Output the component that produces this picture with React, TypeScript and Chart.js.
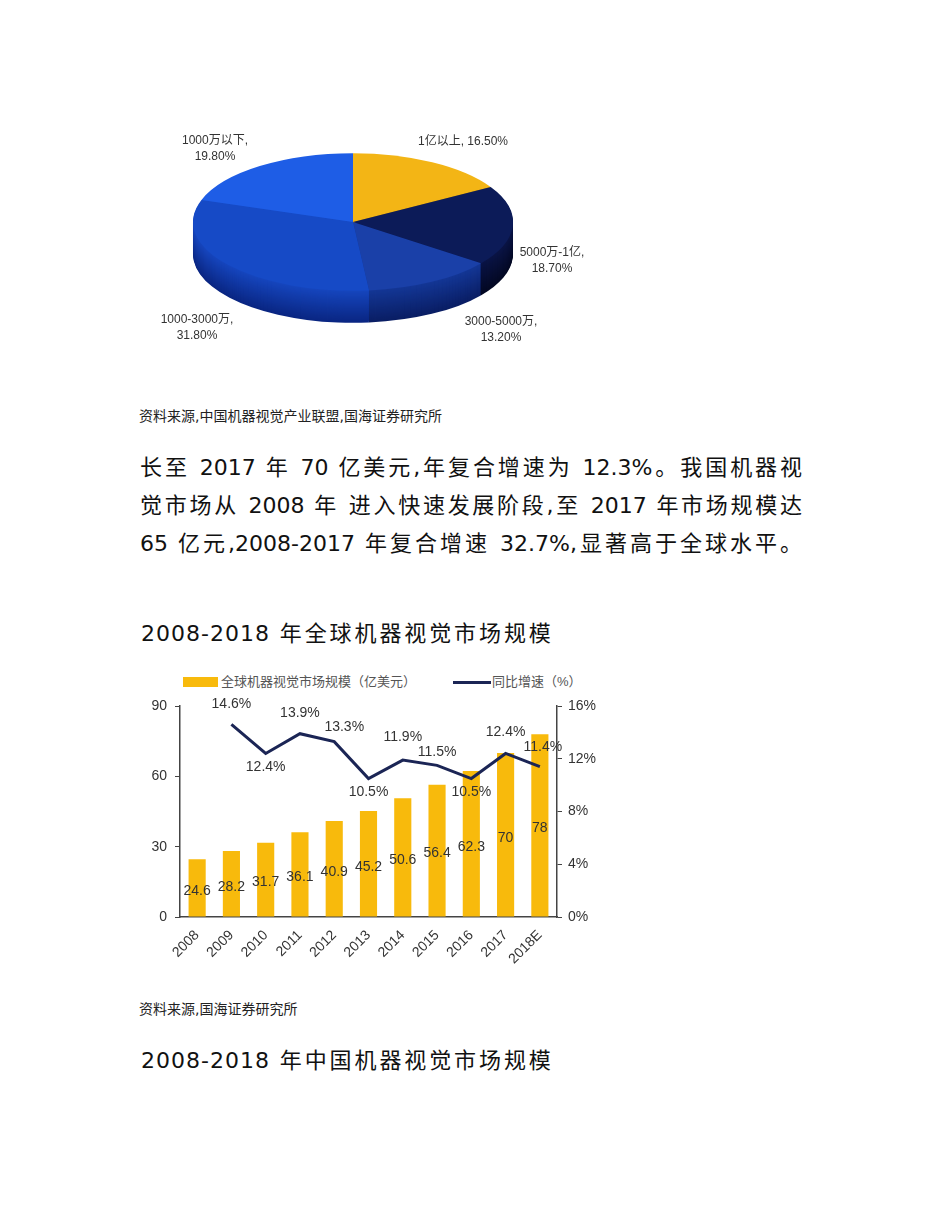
import React, { useEffect, useRef } from "react";
import { Chart, registerables } from "chart.js";

Chart.register(...registerables);

// ---------- Pie data ----------
const pieLabels = ["1亿以上", "5000万-1亿", "3000-5000万", "1000-3000万", "1000万以下"];
const pieValues = [16.5, 18.7, 13.2, 31.8, 19.8];
const pieValueText = ["16.50%", "18.70%", "13.20%", "31.80%", "19.80%"];

// ---------- Bar/line data ----------
const years = ["2008", "2009", "2010", "2011", "2012", "2013", "2014", "2015", "2016", "2017", "2018E"];
const marketSize = [24.6, 28.2, 31.7, 36.1, 40.9, 45.2, 50.6, 56.4, 62.3, 70, 78];
const growthRate = [null, 14.6, 12.4, 13.9, 13.3, 10.5, 11.9, 11.5, 10.5, 12.4, 11.4];
const leftTicks = [0, 30, 60, 90];
const rightTicks = [0, 4, 8, 12, 16];

// ---------- styles ----------
const pieTopColors = ["#F3B515", "#0C1B58", "#1A40A8", "#164AC6", "#1E5DE6"];
const pieSideTop = [
  [190, 140, 10],
  [10, 20, 70],
  [20, 55, 150],
  [22, 70, 190],
  [25, 80, 200],
];
const pieSideBottom = [
  [140, 100, 5],
  [3, 8, 35],
  [10, 30, 100],
  [10, 38, 130],
  [15, 55, 160],
];
const pieLabelPos = [
  { x: 278, y: 22, align: "left", two: false },
  { x: 412, y: 133, align: "center", two: true },
  { x: 361, y: 202, align: "center", two: true },
  { x: 57, y: 200, align: "center", two: true },
  { x: 75, y: 21, align: "center", two: true },
];
const lineLabelDx = [0, 0, 0, 0, 10, 0, 0, 0, 0, 0, 3];
const lineLabelDy = [0, -20, 14, -21, -14, 14, -23, -13, 14, -21, -20];

const CJK = '"Liberation Sans", Arial, "Noto Sans CJK SC", sans-serif';

function mix(a: number[], b: number[], t: number) {
  const c = a.map((v, i) => Math.round(v + (b[i] - v) * t));
  return `rgb(${c[0]},${c[1]},${c[2]})`;
}

function PieChart() {
  const ref = useRef<HTMLCanvasElement>(null);
  useEffect(() => {
    if (!ref.current) return;
    const cx = 213, cy = 102, k = 0.43, depth = 32;
    const pie3d = {
      id: "pie3d",
      beforeDatasetsDraw(chart: any) {
        const ctx = chart.ctx;
        const meta = chart.getDatasetMeta(0);
        for (let d = depth; d >= 1; d--) {
          const t = d / depth;
          ctx.save();
          ctx.translate(cx, cy + d);
          ctx.scale(1, k);
          meta.data.forEach((el: any, i: number) => {
            ctx.beginPath();
            ctx.moveTo(0, 0);
            ctx.arc(0, 0, el.outerRadius, el.startAngle, el.endAngle);
            ctx.closePath();
            ctx.fillStyle = mix(pieSideTop[i], pieSideBottom[i], t);
            ctx.fill();
          });
          ctx.restore();
        }
        const el0: any = meta.data[0];
        ctx.save();
        ctx.translate(cx, cy);
        ctx.scale(1, k);
        ctx.translate(-el0.x, -el0.y);
      },
      afterDatasetsDraw(chart: any) {
        const ctx = chart.ctx;
        ctx.restore();
        ctx.save();
        ctx.fillStyle = "#333";
        ctx.font = "12px " + CJK;
        ctx.textBaseline = "middle";
        pieLabels.forEach((lab, i) => {
          const p = pieLabelPos[i];
          ctx.textAlign = p.align as CanvasTextAlign;
          if (p.two) {
            ctx.fillText(lab + ",", p.x, p.y);
            ctx.fillText(pieValueText[i], p.x, p.y + 16);
          } else {
            ctx.fillText(lab + ", " + pieValueText[i], p.x, p.y);
          }
        });
        ctx.restore();
      },
    };
    const chart = new Chart(ref.current, {
      type: "pie",
      data: {
        labels: pieLabels,
        datasets: [
          {
            data: pieValues,
            backgroundColor: pieTopColors,
            borderWidth: 0,
            radius: 160,
            clip: false,
          } as any,
        ],
      },
      options: {
        responsive: false,
        animation: false,
        events: [],
        layout: { padding: 0 },
        plugins: { legend: { display: false }, tooltip: { enabled: false } },
      },
      plugins: [pie3d],
    });
    return () => chart.destroy();
  }, []);
  return (
    <canvas
      ref={ref}
      width={450}
      height={240}
      style={{ position: "absolute", left: 140, top: 120, width: 450, height: 240 }}
    />
  );
}

function BarLineChart() {
  const ref = useRef<HTMLCanvasElement>(null);
  useEffect(() => {
    if (!ref.current) return;
    const labelPlugin = {
      id: "valueLabels",
      afterDatasetsDraw(chart: any) {
        const ctx = chart.ctx;
        ctx.save();
        ctx.fillStyle = "#333";
        ctx.font = '14px "Liberation Sans", Arial, sans-serif';
        ctx.textAlign = "center";
        ctx.textBaseline = "middle";
        const barMeta = chart.getDatasetMeta(1);
        barMeta.data.forEach((el: any, i: number) => {
          ctx.fillText(String(marketSize[i]), el.x, (el.y + el.base) / 2 + 3);
        });
        const lineMeta = chart.getDatasetMeta(0);
        lineMeta.data.forEach((el: any, i: number) => {
          const v = growthRate[i];
          if (v === null || v === undefined) return;
          ctx.fillText(v.toFixed(1) + "%", el.x + lineLabelDx[i], el.y + lineLabelDy[i]);
        });
        ctx.restore();
      },
    };
    const axisColor = "#444";
    const chart = new Chart(ref.current, {
      type: "bar",
      data: {
        labels: years,
        datasets: [
          {
            type: "line",
            label: "同比增速（%）",
            data: growthRate,
            yAxisID: "y1",
            borderColor: "#1B2555",
            borderWidth: 3,
            pointRadius: 0,
            tension: 0,
            spanGaps: false,
            order: 0,
          } as any,
          {
            type: "bar",
            label: "全球机器视觉市场规模（亿美元）",
            data: marketSize,
            yAxisID: "y",
            backgroundColor: "#F8BA0C",
            barPercentage: 0.5,
            categoryPercentage: 1,
            order: 1,
          },
        ],
      },
      options: {
        responsive: false,
        animation: false,
        events: [],
        layout: { padding: { top: 41, left: 0, right: 0, bottom: 0 } },
        plugins: { legend: { display: false }, tooltip: { enabled: false } },
        scales: {
          x: {
            offset: true,
            grid: { display: false },
            border: { display: true, color: axisColor, width: 1.5 },
            ticks: {
              autoSkip: false,
              minRotation: 45,
              maxRotation: 45,
              color: "#333",
              font: { size: 14, family: '"Liberation Sans", Arial, sans-serif' },
              padding: 2,
            },
            afterFit: (s: any) => {
              s.height = 68;
            },
          },
          y: {
            position: "left",
            min: 0,
            max: 90,
            afterBuildTicks: (s: any) => {
              s.ticks = leftTicks.map((v) => ({ value: v }));
            },
            grid: { drawOnChartArea: false, drawTicks: true, tickLength: 5, color: axisColor },
            border: { display: true, color: axisColor, width: 1.5 },
            ticks: {
              color: "#333",
              font: { size: 14, family: '"Liberation Sans", Arial, sans-serif' },
              padding: 8,
            },
            afterFit: (s: any) => {
              s.width = 50;
            },
          },
          y1: {
            position: "right",
            min: 0,
            max: 16,
            afterBuildTicks: (s: any) => {
              s.ticks = rightTicks.map((v) => ({ value: v }));
            },
            grid: { drawOnChartArea: false, drawTicks: true, tickLength: 5, color: axisColor },
            border: { display: true, color: axisColor, width: 1.5 },
            ticks: {
              color: "#333",
              font: { size: 14, family: '"Liberation Sans", Arial, sans-serif' },
              padding: 6,
              callback: (v: any) => v + "%",
            },
            afterFit: (s: any) => {
              s.width = 43;
            },
          },
        },
      },
      plugins: [labelPlugin],
    });
    return () => chart.destroy();
  }, []);
  return (
    <canvas
      ref={ref}
      width={470}
      height={320}
      style={{ position: "absolute", left: 130, top: 665, width: 470, height: 320 }}
    />
  );
}

const bodyFont = '"DejaVu Sans", "Noto Sans CJK SC", sans-serif';

function Line({ top, text, size, width, justify }: any) {
  return (
    <div
      style={{
        position: "absolute",
        left: 140,
        top,
        width: width,
        fontFamily: bodyFont,
        fontSize: size,
        lineHeight: "30px",
        color: "#111",
        whiteSpace: "nowrap",
        textAlign: justify ? "justify" : "left",
        textAlignLast: justify ? "justify" : "left",
      } as any}
    >
      {text}
    </div>
  );
}

function Heading({ top, num, rest }: any) {
  return (
    <div
      style={{
        position: "absolute",
        left: 141,
        top,
        fontFamily: bodyFont,
        fontSize: 22,
        lineHeight: "30px",
        color: "#111",
        whiteSpace: "nowrap",
      }}
    >
      <span style={{ letterSpacing: 1 }}>{num}</span>
      <span style={{ letterSpacing: 2.9 }}>{rest}</span>
    </div>
  );
}

export default function App() {
  return (
    <div style={{ position: "absolute", left: 0, top: 0, width: 950, height: 1230, background: "#fff", overflow: "hidden" }}>
      <PieChart />
      <div style={{ position: "absolute", left: 139, top: 406, fontFamily: bodyFont, fontSize: 14, lineHeight: "20px", color: "#222" }}>
        资料来源,中国机器视觉产业联盟,国海证券研究所
      </div>
      <Line top={453} size={22} width={662} justify text="长至 2017 年 70 亿美元,年复合增速为 12.3%。我国机器视" />
      <Line top={491} size={22} width={662} justify text="觉市场从 2008 年 进入快速发展阶段,至 2017 年市场规模达" />
      <Line top={529} size={22} width={662} justify text="65 亿元,2008-2017 年复合增速 32.7%,显著高于全球水平。" />
      <Heading top={619} num="2008-2018" rest=" 年全球机器视觉市场规模" />
      {/* legend */}
      <div style={{ position: "absolute", left: 183, top: 677, width: 35, height: 10, background: "#F8BA0C" }} />
      <div style={{ position: "absolute", left: 221, top: 673, fontFamily: CJK, fontSize: 13, lineHeight: "18px", color: "#555" }}>
        全球机器视觉市场规模（亿美元）
      </div>
      <div style={{ position: "absolute", left: 453, top: 681, width: 38, height: 3, background: "#1B2555" }} />
      <div style={{ position: "absolute", left: 492, top: 673, fontFamily: CJK, fontSize: 13, lineHeight: "18px", color: "#555" }}>
        同比增速（%）
      </div>
      <BarLineChart />
      <div style={{ position: "absolute", left: 139, top: 999, fontFamily: bodyFont, fontSize: 14, lineHeight: "20px", color: "#222" }}>
        资料来源,国海证券研究所
      </div>
      <Heading top={1046} num="2008-2018" rest=" 年中国机器视觉市场规模" />
    </div>
  );
}
